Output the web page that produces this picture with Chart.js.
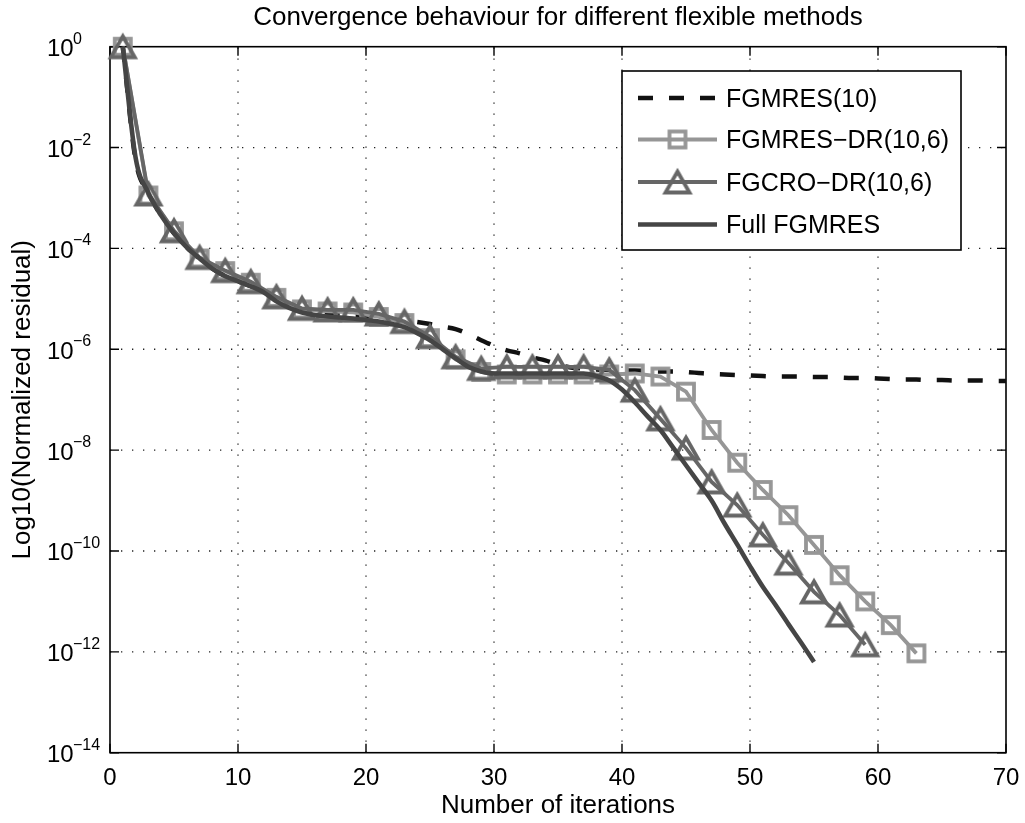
<!DOCTYPE html>
<html>
<head>
<meta charset="utf-8">
<script src="https://cdn.jsdelivr.net/npm/chart.js@4/dist/chart.umd.min.js"></script>
<style>
html,body{margin:0;padding:0;background:#fff;}
#wrap{width:1025px;height:823px;}
</style>
</head>
<body>
<div id="wrap"><canvas id="c" width="1025" height="823"></canvas></div>
<script>
// ---------- texts ----------
const chartTitle = 'Convergence behaviour for different flexible methods';
const xAxisLabel = 'Number of iterations';
const yAxisLabel = 'Log10(Normalized residual)';
const seriesNames = ['FGMRES(10)', 'FGMRES\u2212DR(10,6)', 'FGCRO\u2212DR(10,6)', 'Full FGMRES'];

// ---------- ticks ----------
const xTickValues = [0, 10, 20, 30, 40, 50, 60, 70];
const yTickExponents = [0, -2, -4, -6, -8, -10, -12, -14];

// ---------- data (values are log10 of the normalized residual) ----------
const fgmres10Iter = [1,2,3,4,5,6,7,8,9,10,11,12,13,14,15,16,17,18,19,20,21,22,23,24,25,26,27,28,29,30,31,32,33,34,35,36,37,38,39,40,41,42,43,44,45,46,47,48,49,50,51,52,53,54,55,56,57,58,59,60,61,62,63,64,65,66,67,68,69,70];
const fgmres10Log = [0,-2.25,-2.9,-3.35,-3.7,-3.98,-4.2,-4.4,-4.55,-4.65,-4.75,-4.87,-5.0,-5.15,-5.22,-5.26,-5.28,-5.3,-5.31,-5.33,-5.36,-5.4,-5.43,-5.46,-5.5,-5.55,-5.6,-5.7,-5.82,-5.93,-6.02,-6.08,-6.16,-6.22,-6.3,-6.36,-6.38,-6.4,-6.41,-6.42,-6.42,-6.43,-6.44,-6.44,-6.45,-6.47,-6.49,-6.5,-6.51,-6.52,-6.53,-6.54,-6.54,-6.54,-6.55,-6.55,-6.56,-6.57,-6.57,-6.58,-6.59,-6.6,-6.6,-6.61,-6.61,-6.62,-6.62,-6.62,-6.63,-6.63];

const fgmresDrIter = [1,3,5,7,9,11,13,15,17,19,21,23,25,27,29,31,33,35,37,39,41,43,45,47,49,51,53,55,57,59,61,63];
const fgmresDrLog = [0,-2.95,-3.66,-4.2,-4.45,-4.68,-4.98,-5.21,-5.25,-5.27,-5.36,-5.48,-5.78,-6.2,-6.45,-6.5,-6.5,-6.5,-6.5,-6.5,-6.48,-6.54,-6.84,-7.6,-8.25,-8.79,-9.29,-9.88,-10.48,-11.0,-11.47,-12.03];

const fgcroDrIter = [1,3,5,7,9,11,13,15,17,19,21,23,25,27,29,31,33,35,37,39,41,43,45,47,49,51,53,55,57,59];
const fgcroDrLog = [0,-2.92,-3.65,-4.18,-4.44,-4.66,-4.96,-5.19,-5.22,-5.22,-5.3,-5.45,-5.75,-6.15,-6.38,-6.35,-6.35,-6.35,-6.35,-6.41,-6.81,-7.38,-7.96,-8.63,-9.09,-9.68,-10.24,-10.81,-11.27,-11.86];

const fullIter = [1,2,3,4,5,6,7,8,9,10,11,12,13,14,15,16,17,18,19,20,21,22,23,24,25,26,27,28,29,30,31,32,33,34,35,36,37,38,39,40,41,42,43,44,45,46,47,48,49,50,51,52,53,54,55];
const fullLog = [0,-2.2,-2.9,-3.35,-3.7,-3.98,-4.2,-4.4,-4.55,-4.65,-4.75,-4.87,-5.05,-5.18,-5.27,-5.32,-5.35,-5.37,-5.39,-5.42,-5.45,-5.5,-5.56,-5.68,-5.82,-6.0,-6.18,-6.35,-6.44,-6.48,-6.48,-6.48,-6.48,-6.48,-6.48,-6.48,-6.48,-6.53,-6.62,-6.8,-7.05,-7.33,-7.6,-7.95,-8.3,-8.65,-9.0,-9.45,-9.87,-10.3,-10.71,-11.07,-11.45,-11.82,-12.2];

// ---------- styles ----------
const colDash = '#111111';
const colSquare = '#969696';
const colTri = '#666666';
const colFull = '#454545';
const FONT = '"Liberation Sans", Arial, Helvetica, sans-serif';

function toPoints(iters, logs) {
  return iters.map((x, i) => ({ x: x, y: Math.pow(10, logs[i]) }));
}

function makeTriangle(color) {
  const c = document.createElement('canvas');
  c.width = 40; c.height = 40;
  const g = c.getContext('2d');
  g.strokeStyle = color; g.lineWidth = 3.8; g.lineJoin = 'miter';
  g.beginPath();
  g.moveTo(20, 20 - 10.5);
  g.lineTo(20 + 12, 20 + 10.5);
  g.lineTo(20 - 12, 20 + 10.5);
  g.closePath();
  g.stroke();
  return c;
}
function makeSquare(color) {
  const c = document.createElement('canvas');
  c.width = 30; c.height = 30;
  const g = c.getContext('2d');
  g.strokeStyle = color; g.lineWidth = 3.8; g.lineJoin = 'miter';
  g.strokeRect(15 - 8, 15 - 8, 16, 16);
  return c;
}
const triImg = makeTriangle(colTri);
const sqImg = makeSquare(colSquare);

// ---------- custom drawing plugins ----------
const backgroundPlugin = {
  id: 'bg',
  beforeDraw(chart) {
    const g = chart.ctx;
    g.save(); g.fillStyle = '#fff'; g.fillRect(0, 0, chart.width, chart.height); g.restore();
  }
};

const axesPlugin = {
  id: 'matlabAxes',
  beforeDatasetsDraw(chart) {
    const g = chart.ctx;
    const a = chart.chartArea;
    const xs = chart.scales.x, ys = chart.scales.y;
    g.save();
    // dotted grid
    g.strokeStyle = '#222'; g.lineWidth = 1.3; g.setLineDash([1.3, 9.7]);
    xs.ticks.forEach(t => {
      const px = xs.getPixelForValue(t.value);
      if (px <= a.left + 1 || px >= a.right - 1) return;
      g.beginPath(); g.moveTo(px, a.bottom); g.lineTo(px, a.top); g.stroke();
    });
    ys.ticks.forEach(t => {
      const py = ys.getPixelForValue(t.value);
      if (py <= a.top + 1 || py >= a.bottom - 1) return;
      g.beginPath(); g.moveTo(a.left, py); g.lineTo(a.right, py); g.stroke();
    });
    g.setLineDash([]);
    // frame
    g.strokeStyle = '#000'; g.lineWidth = 1.6;
    g.strokeRect(a.left, a.top, a.right - a.left, a.bottom - a.top);
    // inward ticks
    const tl = 9;
    g.lineWidth = 1.4;
    xs.ticks.forEach(t => {
      const px = xs.getPixelForValue(t.value);
      g.beginPath();
      g.moveTo(px, a.bottom); g.lineTo(px, a.bottom - tl);
      g.moveTo(px, a.top); g.lineTo(px, a.top + tl);
      g.stroke();
    });
    ys.ticks.forEach(t => {
      const py = ys.getPixelForValue(t.value);
      g.beginPath();
      g.moveTo(a.left, py); g.lineTo(a.left + tl, py);
      g.moveTo(a.right, py); g.lineTo(a.right - tl, py);
      g.stroke();
    });
    // x tick labels
    g.fillStyle = '#000';
    g.font = '24px ' + FONT;
    g.textAlign = 'center'; g.textBaseline = 'alphabetic';
    xs.ticks.forEach(t => {
      const px = xs.getPixelForValue(t.value);
      g.fillText(String(t.value), px, a.bottom + 32);
    });
    // y tick labels: 10 with superscript exponent
    ys.ticks.forEach((t, i) => {
      const py = ys.getPixelForValue(t.value);
      const ex = Math.round(Math.log10(t.value));
      g.font = '24px ' + FONT;
      g.textAlign = 'left';
      g.fillText('10', 47, py + 9.5);
      g.font = '16px ' + FONT;
      g.fillText(ex === 0 ? '0' : '\u2212' + String(-ex), 73, py - 3);
    });
    // axis labels
    g.font = '26px ' + FONT;
    g.textAlign = 'center';
    g.fillText(xAxisLabel, (a.left + a.right) / 2, 813);
    g.save();
    g.translate(30, (a.top + a.bottom) / 2);
    g.rotate(-Math.PI / 2);
    g.fillText(yAxisLabel, 0, 0);
    g.restore();
    // title
    g.font = '26px ' + FONT;
    g.fillText(chartTitle, (a.left + a.right) / 2, 25);
    g.restore();
  }
};

const legendPlugin = {
  id: 'matlabLegend',
  afterDatasetsDraw(chart) {
    const g = chart.ctx;
    const box = { l: 622, t: 71, r: 961, b: 250 };
    g.save();
    g.fillStyle = '#fff';
    g.fillRect(box.l, box.t, box.r - box.l, box.b - box.t);
    g.strokeStyle = '#000'; g.lineWidth = 1.6;
    g.strokeRect(box.l, box.t, box.r - box.l, box.b - box.t);
    const baselines = [106.5, 148, 190.5, 233];
    chart.data.datasets.forEach((ds, i) => {
      const yb = baselines[i];
      const ym = yb - 8.5;
      g.strokeStyle = ds.borderColor;
      g.lineWidth = ds.borderWidth;
      g.setLineDash(ds.borderDash || []);
      g.beginPath(); g.moveTo(638, ym); g.lineTo(717, ym); g.stroke();
      g.setLineDash([]);
      if (ds.pointStyle && typeof ds.pointStyle === 'object' && ds.pointRadius > 0) {
        const im = ds.pointStyle;
        g.drawImage(im, 677.5 - im.width / 2, ym - im.height / 2);
      }
      g.fillStyle = '#000';
      g.font = '25px ' + FONT;
      g.textAlign = 'left'; g.textBaseline = 'alphabetic';
      g.fillText(ds.label, 726, yb);
    });
    g.restore();
  }
};

const ctx = document.getElementById('c').getContext('2d');
new Chart(ctx, {
  type: 'line',
  data: {
    datasets: [
      {
        label: seriesNames[0], data: toPoints(fgmres10Iter, fgmres10Log),
        borderColor: colDash, borderWidth: 4.5, borderDash: [15, 16],
        pointRadius: 0, cubicInterpolationMode: 'monotone', order: 4, clip: false
      },
      {
        label: seriesNames[1], data: toPoints(fgmresDrIter, fgmresDrLog),
        borderColor: colSquare, borderWidth: 3.8, tension: 0,
        pointStyle: sqImg, pointRadius: 10, order: 3, clip: false
      },
      {
        label: seriesNames[2], data: toPoints(fgcroDrIter, fgcroDrLog),
        borderColor: colTri, borderWidth: 3.8, tension: 0,
        pointStyle: triImg, pointRadius: 12, order: 2, clip: false
      },
      {
        label: seriesNames[3], data: toPoints(fullIter, fullLog),
        borderColor: colFull, borderWidth: 4.6, pointRadius: 0,
        cubicInterpolationMode: 'monotone', order: 1, clip: false
      }
    ]
  },
  options: {
    responsive: false,
    animation: false,
    devicePixelRatio: 1,
    layout: { padding: { top: 46.7, right: 19, left: 0, bottom: 0 } },
    plugins: { legend: { display: false }, title: { display: false }, tooltip: { enabled: false } },
    events: [],
    scales: {
      x: {
        type: 'linear', min: 0, max: 70,
        ticks: { display: false },
        grid: { display: false }, border: { display: false },
        afterBuildTicks: s => { s.ticks = xTickValues.map(v => ({ value: v })); },
        afterFit: s => { s.height = 70.3; }
      },
      y: {
        type: 'logarithmic', min: 1e-14, max: 1,
        ticks: { display: false },
        grid: { display: false }, border: { display: false },
        afterBuildTicks: s => { s.ticks = yTickExponents.map(e => ({ value: Math.pow(10, e) })); },
        afterFit: s => { s.width = 110; }
      }
    }
  },
  plugins: [backgroundPlugin, axesPlugin, legendPlugin]
});
</script>
</body>
</html>
